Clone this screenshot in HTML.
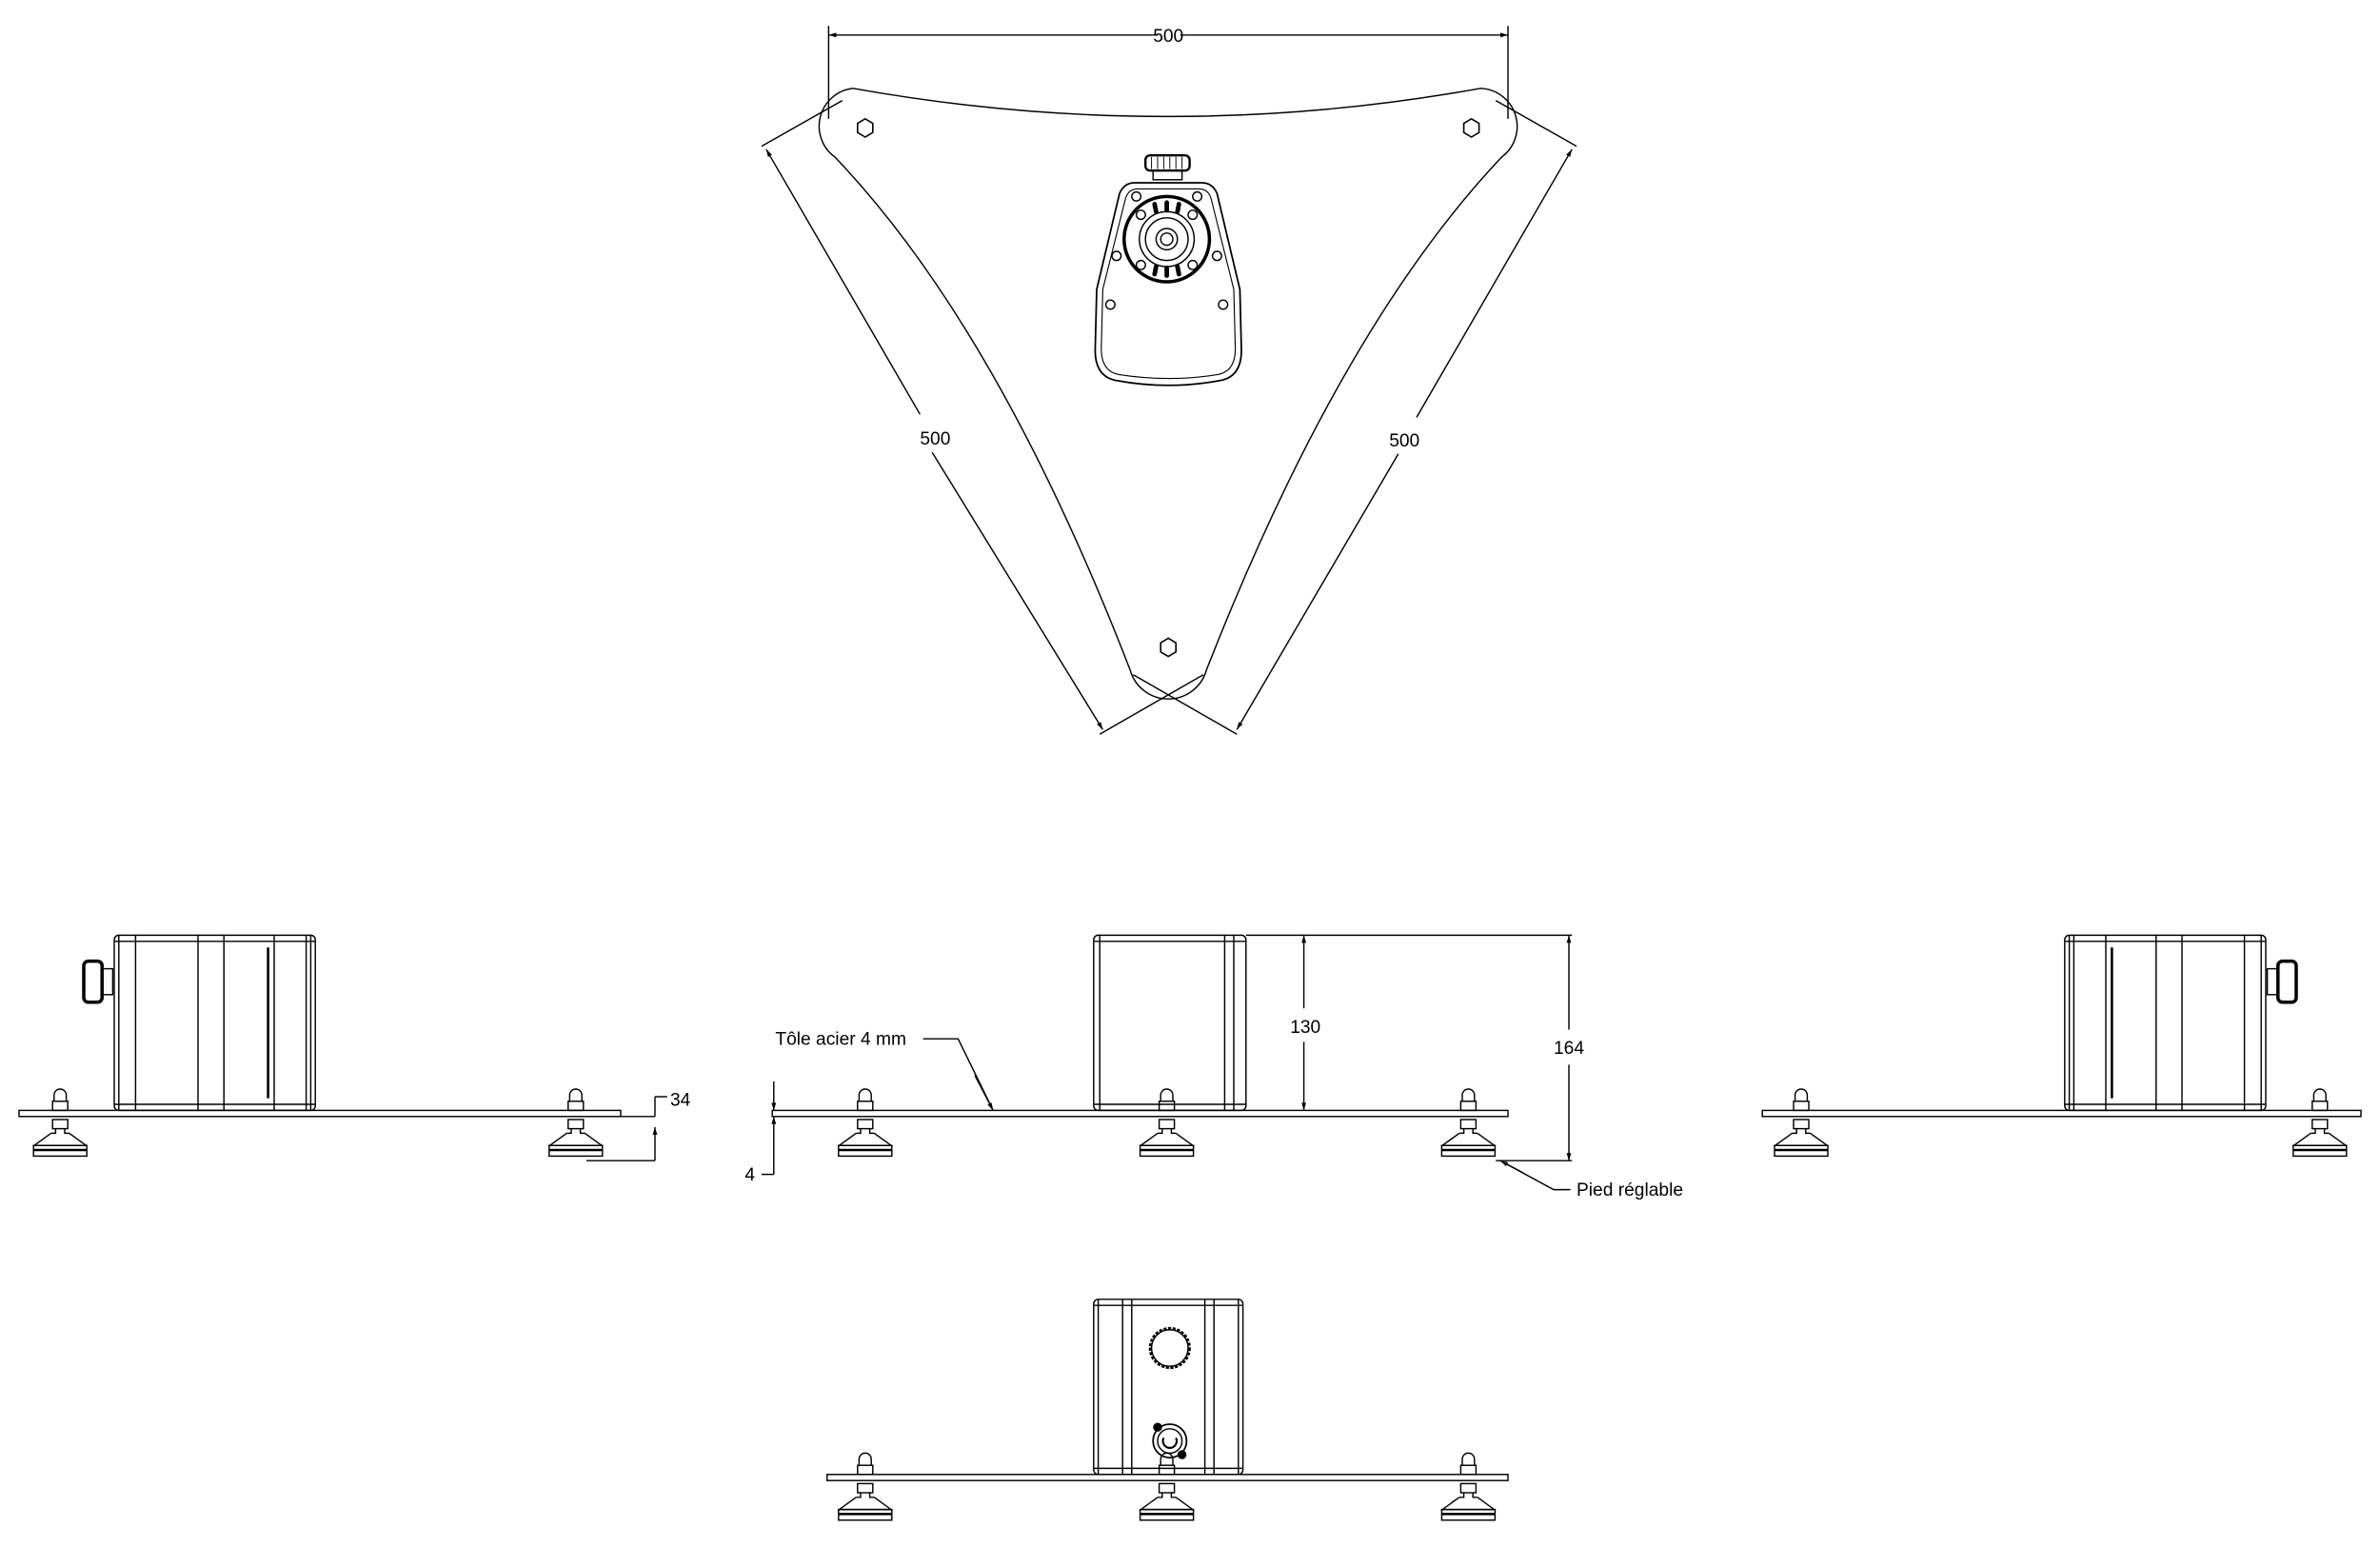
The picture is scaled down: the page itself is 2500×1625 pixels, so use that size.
<!DOCTYPE html>
<html><head><meta charset="utf-8"><style>
html,body{margin:0;padding:0;background:#fff;}
svg{display:block;}
text{font-family:"Liberation Sans",Arial,sans-serif;font-size:12px;fill:#000;}
</style></head><body>
<svg width="2500" height="1625" viewBox="0 0 1562.5 1015.625" xmlns="http://www.w3.org/2000/svg" fill="none" stroke="#000" stroke-width="0.9">
<defs>
<marker id="ar" viewBox="0 0 10 10" refX="10" refY="5" markerWidth="7" markerHeight="5" orient="auto-start-reverse" markerUnits="userSpaceOnUse"><path d="M0,2 L10,5 L0,8 z" fill="#000" stroke="none"/></marker>
<g id="foot">
  <path d="M-4,-6 L-4,-10 A4,4 0 0 1 4,-10 L4,-6"/>
  <rect x="-5" y="-6" width="10" height="6"/>
  <rect x="-5" y="6" width="10" height="6"/>
  <path d="M-3,12 L-3,15 L-6,15 M3,12 L3,15 L6,15"/>
  <path d="M-6,15 L-17,23 L17,23 L6,15"/>
  <rect x="-17.5" y="23" width="35" height="7"/>
  <line x1="-17.5" y1="26" x2="17.5" y2="26" stroke-width="1.6"/>
</g>
<g id="sidebox">
  <rect x="0" y="0" width="132" height="115" rx="3"/>
  <line x1="0" y1="4" x2="132" y2="4"/><line x1="0" y1="111" x2="132" y2="111"/>
  <line x1="3" y1="0" x2="3" y2="115"/>
  <line x1="14" y1="0" x2="14" y2="115"/>
  <line x1="55" y1="0" x2="55" y2="115"/>
  <line x1="72" y1="0" x2="72" y2="115"/>
  <line x1="101" y1="8" x2="101" y2="107" stroke-width="1.6"/>
  <line x1="105" y1="0" x2="105" y2="115"/>
  <line x1="126" y1="0" x2="126" y2="115"/>
  <line x1="129" y1="0" x2="129" y2="115"/>
</g>
</defs>

<!-- TOP VIEW -->
<line x1="544" y1="23" x2="760" y2="23" marker-start="url(#ar)"/>
<line x1="775" y1="23" x2="990" y2="23" marker-end="url(#ar)"/>
<text x="767" y="27.5" text-anchor="middle" stroke="none">500</text>
<line x1="544" y1="17" x2="544" y2="78"/>
<line x1="990" y1="17" x2="990" y2="78"/>
<path d="M560,58 Q767,95 972,58 A25,25 0 0 1 986,103 Q880,215 792,440 A26,26 0 0 1 742,440 Q655,215 548,103 A25,25 0 0 1 560,58 Z"/>
<g stroke-width="1">
<polygon points="568,78 573,81 573,87 568,90 563,87 563,81"/>
<polygon points="966,78 971,81 971,87 966,90 961,87 961,81"/>
<polygon points="767,419 772,422 772,428 767,431 762,428 762,422"/>
</g>
<line x1="553" y1="66" x2="500" y2="96"/>
<line x1="790" y1="443" x2="722" y2="482"/>
<line x1="503" y1="98" x2="604" y2="272" marker-start="url(#ar)"/>
<line x1="612" y1="297" x2="724" y2="479" marker-end="url(#ar)"/>
<text x="614" y="292" text-anchor="middle" stroke="none">500</text>
<line x1="982" y1="66" x2="1035" y2="96"/>
<line x1="744" y1="443" x2="812" y2="482"/>
<line x1="1032" y1="98" x2="930" y2="274" marker-start="url(#ar)"/>
<line x1="918" y1="298" x2="812" y2="479" marker-end="url(#ar)"/>
<text x="922" y="293" text-anchor="middle" stroke="none">500</text>
<rect x="752" y="102" width="29" height="10" rx="3" stroke-width="1.5"/>
<g stroke-width="0.6"><line x1="756" y1="103" x2="756" y2="111"/><line x1="760" y1="103" x2="760" y2="111"/><line x1="764" y1="103" x2="764" y2="111"/><line x1="768" y1="103" x2="768" y2="111"/><line x1="772" y1="103" x2="772" y2="111"/><line x1="776" y1="103" x2="776" y2="111"/></g>
<rect x="757" y="112" width="19" height="6"/>
<path d="M745,120 L789,120 Q796,120 799,127 L814,190 L815,230 Q815,248 800,250 Q767,256 734,250 Q719,248 719,230 L720,190 L735,127 Q738,120 745,120 Z" stroke-width="1.1"/>
<path d="M747,124 L787,124 Q793,124 795,130 L810,190 L811,229 Q811,244 799,246 Q767,251 735,246 Q723,244 723,229 L724,190 L739,130 Q741,124 747,124 Z" stroke-width="0.7"/>
<circle cx="766" cy="157" r="28" stroke-width="2.2"/>
<circle cx="766" cy="157" r="18"/>
<circle cx="766" cy="157" r="14"/>
<circle cx="766" cy="157" r="7"/>
<circle cx="766" cy="157" r="4"/>
<g stroke-width="3" stroke-linecap="round">
<line x1="758" y1="134" x2="759" y2="139"/><line x1="766" y1="133" x2="766" y2="138"/><line x1="774" y1="134" x2="773" y2="139"/>
<line x1="758" y1="180" x2="759" y2="175"/><line x1="766" y1="181" x2="766" y2="176"/><line x1="774" y1="180" x2="773" y2="175"/>
</g>
<g>
<circle cx="749" cy="141" r="3"/><circle cx="783" cy="141" r="3"/><circle cx="749" cy="174" r="3"/><circle cx="783" cy="174" r="3"/>
<circle cx="746" cy="129" r="3"/><circle cx="786" cy="129" r="3"/>
<circle cx="733" cy="168" r="3"/><circle cx="799" cy="168" r="3"/>
<circle cx="729" cy="200" r="3"/><circle cx="803" cy="200" r="3"/>
</g>

<!-- LEFT SIDE VIEW -->
<use href="#sidebox" x="75" y="614"/>
<rect x="55" y="631" width="12" height="27" rx="3" stroke-width="2.2"/>
<rect x="67" y="636" width="7" height="17"/>
<rect x="12.5" y="729" width="395" height="4"/>
<use href="#foot" x="39.5" y="729"/>
<use href="#foot" x="378" y="729"/>
<line x1="407" y1="733" x2="430" y2="733"/>
<line x1="385" y1="762" x2="430" y2="762"/>
<line x1="430" y1="720" x2="430" y2="733" />
<line x1="430" y1="740" x2="430" y2="762" marker-start="url(#ar)"/>
<line x1="430" y1="720" x2="438" y2="720"/>
<text x="440" y="726" stroke="none">34</text>

<!-- MIDDLE SIDE VIEW -->
<g>
<rect x="718" y="614" width="100" height="115" rx="3"/>
<line x1="718" y1="618" x2="818" y2="618"/><line x1="718" y1="725" x2="818" y2="725"/>
<line x1="722" y1="614" x2="722" y2="729"/>
<line x1="804" y1="614" x2="804" y2="729"/>
<line x1="810" y1="614" x2="810" y2="729"/>
</g>
<rect x="507" y="729" width="483" height="4"/>
<use href="#foot" x="568" y="729"/>
<use href="#foot" x="766" y="729"/>
<use href="#foot" x="964" y="729"/>
<line x1="818" y1="614" x2="1032" y2="614"/>
<line x1="856" y1="614" x2="856" y2="662" marker-start="url(#ar)"/>
<line x1="856" y1="684" x2="856" y2="729" marker-end="url(#ar)"/>
<text x="857" y="678" text-anchor="middle" stroke="none">130</text>
<line x1="982" y1="762" x2="1032" y2="762"/>
<line x1="1030" y1="614" x2="1030" y2="676" marker-start="url(#ar)"/>
<line x1="1030" y1="699" x2="1030" y2="762" marker-end="url(#ar)"/>
<text x="1030" y="692" text-anchor="middle" stroke="none">164</text>
<line x1="508" y1="710" x2="508" y2="729" marker-end="url(#ar)"/>
<line x1="508" y1="771" x2="508" y2="733" marker-end="url(#ar)"/>
<line x1="500" y1="771" x2="508" y2="771"/>
<text x="489" y="775" stroke="none">4</text>
<text x="509" y="686" stroke="none">Tôle acier 4 mm</text>
<path d="M606,682 L629,682 L652,729" />
<line x1="640" y1="706" x2="652" y2="729" marker-end="url(#ar)"/>
<path d="M1031,781 L1020,781 L985,762"/>
<line x1="1000" y1="770" x2="985" y2="762" marker-end="url(#ar)"/>
<text x="1035" y="785" stroke="none">Pied réglable</text>

<!-- RIGHT SIDE VIEW -->
<g transform="translate(1562.5,0) scale(-1,1)">
<use href="#sidebox" x="75" y="614"/>
<rect x="55" y="631" width="12" height="27" rx="3" stroke-width="2.2"/>
<rect x="67" y="636" width="7" height="17"/>
<rect x="12.5" y="729" width="393" height="4"/>
<use href="#foot" x="39.5" y="729"/>
<use href="#foot" x="380" y="729"/>
</g>

<!-- BOTTOM VIEW -->
<g>
<rect x="718" y="853" width="98" height="115" rx="3"/>
<line x1="718" y1="857" x2="816" y2="857"/><line x1="718" y1="964" x2="816" y2="964"/>
<line x1="721" y1="853" x2="721" y2="968"/>
<line x1="737" y1="853" x2="737" y2="968"/>
<line x1="743" y1="853" x2="743" y2="968"/>
<line x1="791" y1="853" x2="791" y2="968"/>
<line x1="797" y1="853" x2="797" y2="968"/>
<line x1="813" y1="853" x2="813" y2="968"/>
<circle cx="768" cy="885" r="13" stroke-width="1.6" stroke-dasharray="2,1"/>
<circle cx="768" cy="885" r="12"/>
<circle cx="768" cy="946" r="11" stroke-width="1.1"/>
<circle cx="768" cy="946" r="8"/>
<path d="M764,944 A4.5,4.5 0 1 0 772,944" stroke-width="1.3"/>
<circle cx="760" cy="937" r="2.5" fill="#000"/>
<circle cx="776" cy="955" r="2.5" fill="#000"/>
</g>
<rect x="543" y="968" width="447" height="4"/>
<use href="#foot" x="568" y="968"/>
<use href="#foot" x="766" y="968"/>
<use href="#foot" x="964" y="968"/>
</svg>
</body></html>
